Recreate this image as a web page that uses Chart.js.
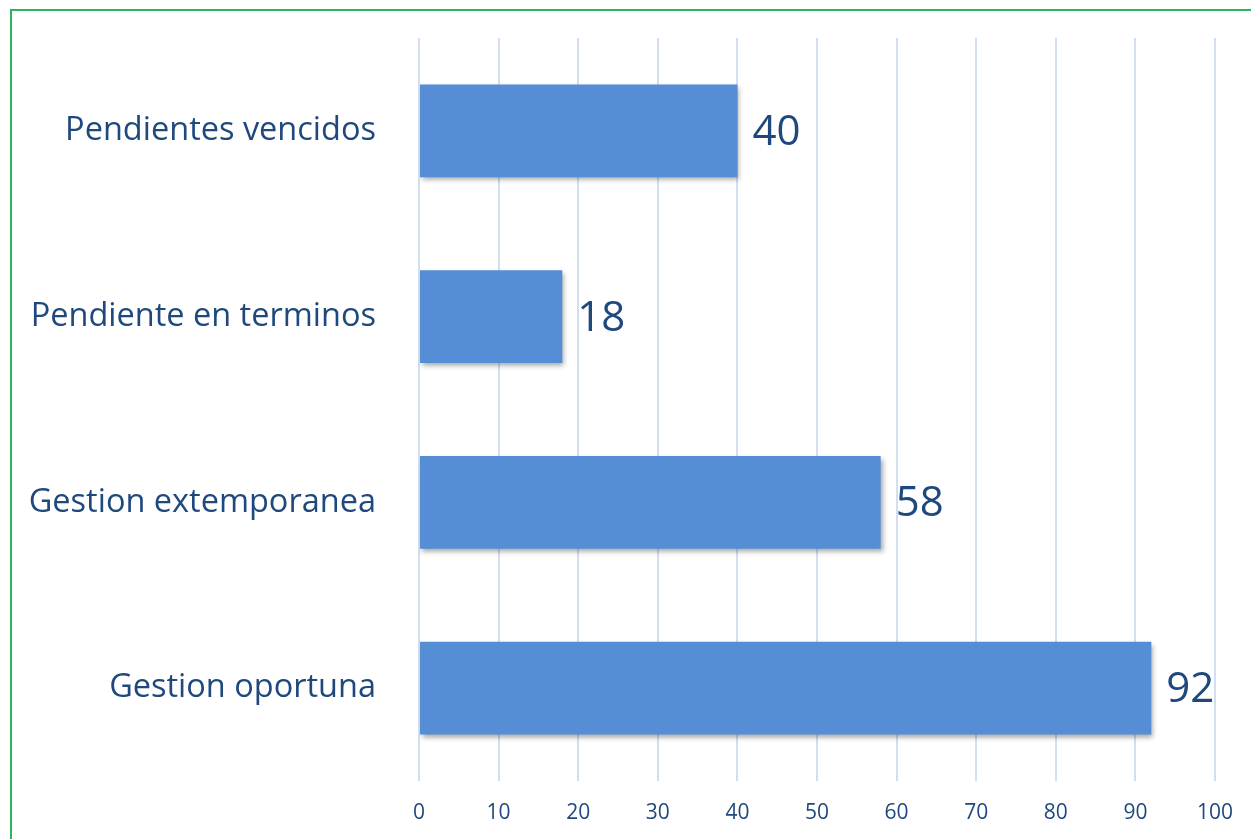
<!DOCTYPE html>
<html>
<head>
<meta charset="utf-8">
<script src="https://cdn.jsdelivr.net/npm/chart.js@4"></script>
<style>
  body { margin: 0; background: #fff; overflow: hidden; }
  #marco { position: absolute; left: 10px; top: 9px; width: 1400px; height: 1000px; border: 2px solid #2DB55D; }
  #wrap { position: absolute; left: 0; top: 0; width: 1251px; height: 839px; }
</style>
</head>
<body>
<div id="marco"></div>
<div id="wrap"><canvas id="Estadistica"></canvas></div>
<script>
const categorias = ['Pendientes vencidos', 'Pendiente en terminos', 'Gestion extemporanea', 'Gestion oportuna'];
const valores = [40, 18, 58, 92];
const ticksX = [0, 10, 20, 30, 40, 50, 60, 70, 80, 90, 100];

const azulTexto = '#1F497D';

// etiquetas de valor al final de cada barra
const etiquetas = {
  id: 'etiquetas',
  afterDatasetsDraw(chart) {
    const ctx = chart.ctx;
    const meta = chart.getDatasetMeta(0);
    ctx.save();
    ctx.font = '42px "Open Sans"';
    ctx.fillStyle = azulTexto;
    ctx.textBaseline = 'middle';
    meta.data.forEach((bar, i) => {
      ctx.fillText(valores[i], bar.x + 15, bar.y + 2);
    });
    ctx.restore();
  }
};

// sombra suave de las barras
const sombra = {
  id: 'sombra',
  beforeDatasetsDraw(chart) {
    const ctx = chart.ctx;
    ctx.save();
    ctx.shadowColor = 'rgba(0,0,0,0.35)';
    ctx.shadowBlur = 5;
    ctx.shadowOffsetX = 2;
    ctx.shadowOffsetY = 3;
  },
  afterDatasetsDraw(chart) {
    chart.ctx.restore();
  }
};

const ctx = document.getElementById('Estadistica');
new Chart(ctx, {
  type: 'bar',
  data: {
    labels: categorias,
    datasets: [{
      data: valores,
      backgroundColor: '#558ED5',
      borderWidth: 0,
      categoryPercentage: 1,
      barPercentage: 0.5
    }]
  },
  options: {
    indexAxis: 'y',
    responsive: true,
    maintainAspectRatio: false,
    animation: false,
    layout: { padding: { top: 38, right: 36, left: 0, bottom: 0 } },
    plugins: { legend: { display: false }, tooltip: { enabled: false } },
    scales: {
      x: {
        min: 0,
        max: 100,
        afterBuildTicks(scale) { scale.ticks = ticksX.map(v => ({ value: v })); },
        afterFit(scale) { scale.height = 58; scale.paddingLeft = 0; scale.paddingRight = 0; },
        grid: { color: '#D2DFF0', lineWidth: 2, drawTicks: false },
        border: { display: false },
        ticks: { color: azulTexto, font: { family: 'Open Sans', size: 21 }, padding: 19 }
      },
      y: {
        afterFit(scale) { scale.width = 419; scale.paddingTop = 0; scale.paddingBottom = 0; },
        grid: { display: false },
        border: { display: false },
        ticks: { color: azulTexto, font: { family: 'Open Sans', size: 32.5 }, padding: 35 }
      }
    }
  },
  plugins: [sombra, etiquetas]
});
</script>
</body>
</html>
